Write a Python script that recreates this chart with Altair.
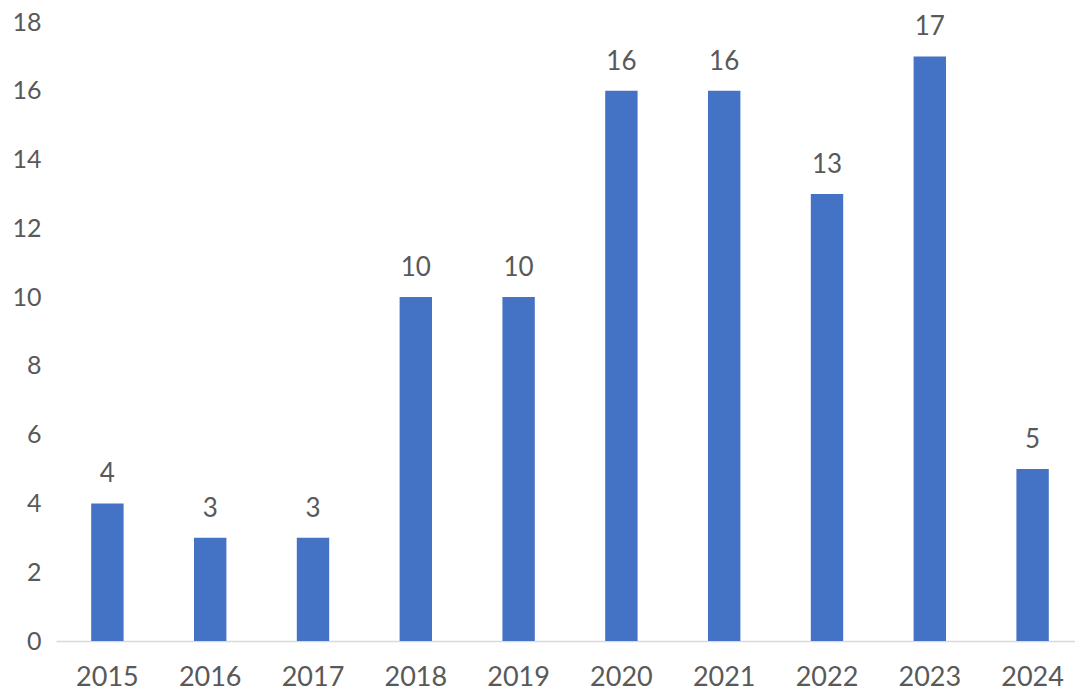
import altair as alt
import pandas as pd

years = ["2015", "2016", "2017", "2018", "2019", "2020", "2021", "2022", "2023", "2024"]
counts = [4, 3, 3, 10, 10, 16, 16, 13, 17, 5]

df = pd.DataFrame({"year": years, "count": counts})

FONT = "Lato"
TXT = "#595959"

x = alt.X(
    "year:N",
    sort=years,
    title=None,
    scale=alt.Scale(paddingInner=0.685, paddingOuter=0.3425, range=[0, 1028]),
    axis=alt.Axis(
        labelAngle=0,
        labelFont=FONT,
        labelFontSize=27,
        labelColor=TXT,
        labelPadding=23,
        ticks=False,
        tickSize=0,
        domainColor="#d9d9d9",
        domainWidth=1.5,
        grid=False,
    ),
)
y = alt.Y(
    "count:Q",
    title=None,
    scale=alt.Scale(domain=[0, 18], nice=False),
    axis=alt.Axis(
        values=list(range(0, 19, 2)),
        labelFont=FONT,
        labelFontSize=25,
        labelColor=TXT,
        labelPadding=15,
        ticks=False,
        tickSize=0,
        domain=False,
        grid=False,
    ),
)

bars = alt.Chart(df).mark_bar(color="#4472C4").encode(x=x, y=y)
labels = alt.Chart(df).mark_text(
    font=FONT, fontSize=26, color=TXT, baseline="alphabetic", dy=-21
).encode(x=alt.X("year:N", sort=years), y="count:Q", text="count:Q")

chart = (
    alt.layer(bars, labels)
    .properties(
        width=1019,
        height=619,
        background="white",
        autosize=alt.AutoSizeParams(type="none"),
        padding={"left": 48, "top": 14, "right": 0, "bottom": 50},
    )
    .configure_view(strokeWidth=0, stroke=None)
)

chart.save("out.html", embed_options={"renderer": "svg", "actions": False})
